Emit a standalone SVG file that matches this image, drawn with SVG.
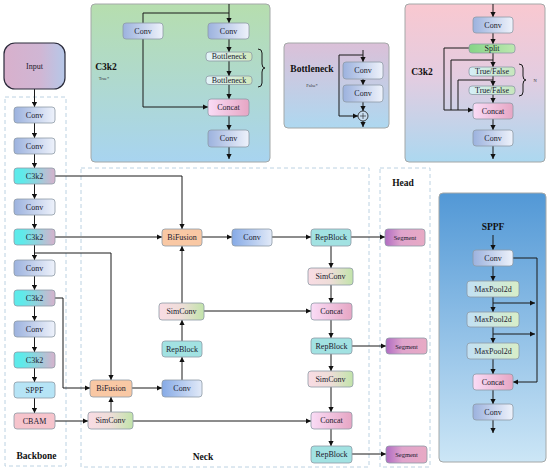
<svg xmlns="http://www.w3.org/2000/svg" width="550" height="473" viewBox="0 0 550 473">
<defs>
<linearGradient id="gConv" x1="0" x2="1" y1="0" y2="0"><stop offset="0" stop-color="#9cb2de"/><stop offset="1" stop-color="#eef2fb"/></linearGradient>
<linearGradient id="gNConv" x1="0" x2="1" y1="0" y2="0"><stop offset="0" stop-color="#86aae6"/><stop offset="1" stop-color="#e2eaf8"/></linearGradient>
<linearGradient id="gC3" x1="0" x2="1" y1="0" y2="0"><stop offset="0.2" stop-color="#5eeaea"/><stop offset="1" stop-color="#d6b2cc"/></linearGradient>
<linearGradient id="gIn" x1="0" x2="1" y1="0" y2="0"><stop offset="0" stop-color="#d8b0cc"/><stop offset="0.6" stop-color="#d0b6d4"/><stop offset="1" stop-color="#b6c8e8"/></linearGradient>
<linearGradient id="gSim" x1="0" x2="1" y1="0" y2="0"><stop offset="0" stop-color="#f9dce4"/><stop offset="0.5" stop-color="#eeddd8"/><stop offset="1" stop-color="#c2e4aa"/></linearGradient>
<linearGradient id="gCat" x1="0" x2="1" y1="0" y2="0"><stop offset="0" stop-color="#fadcf6"/><stop offset="1" stop-color="#e6a6c4"/></linearGradient>
<linearGradient id="gSeg" x1="0" x2="1" y1="0" y2="0"><stop offset="0" stop-color="#b06cc2"/><stop offset="0.4" stop-color="#e0a4cc"/><stop offset="1" stop-color="#e8aac4"/></linearGradient>
<linearGradient id="gBott" x1="0" x2="1" y1="0" y2="0"><stop offset="0" stop-color="#e4f4fb"/><stop offset="1" stop-color="#d0e8bc"/></linearGradient>
<linearGradient id="gSplit" x1="0" x2="1" y1="0" y2="0"><stop offset="0" stop-color="#86d486"/><stop offset="1" stop-color="#bde8b0"/></linearGradient>
<linearGradient id="gTF" x1="0" x2="1" y1="0" y2="0"><stop offset="0" stop-color="#d6eff8"/><stop offset="1" stop-color="#c6e6bc"/></linearGradient>
<linearGradient id="gMax" x1="0" x2="1" y1="0" y2="0"><stop offset="0" stop-color="#c2e0f4"/><stop offset="1" stop-color="#d8eec8"/></linearGradient>
<linearGradient id="pGreen" x1="0" x2="0" y1="0" y2="1"><stop offset="0" stop-color="#b6deae"/><stop offset="1" stop-color="#a8d4f0"/></linearGradient>
<linearGradient id="pBott" x1="0" x2="0" y1="0" y2="1"><stop offset="0" stop-color="#dbc0d8"/><stop offset="1" stop-color="#aed8f0"/></linearGradient>
<linearGradient id="pPink" x1="0" x2="0" y1="0" y2="1"><stop offset="0" stop-color="#f9c8d0"/><stop offset="0.45" stop-color="#e4cce0"/><stop offset="1" stop-color="#acd8f0"/></linearGradient>
<linearGradient id="pSPPF" x1="0" x2="0" y1="0" y2="1"><stop offset="0" stop-color="#5298d6"/><stop offset="1" stop-color="#cce6f6"/></linearGradient>
<marker id="ah" markerWidth="6" markerHeight="6" refX="5" refY="3" orient="auto" markerUnits="userSpaceOnUse"><path d="M0,0.4 L5,3 L0,5.6z" fill="#111"/></marker>
</defs>
<style>
.n{stroke:#8e9aa6;stroke-width:0.8}
.t{font-family:"Liberation Serif",serif;font-size:8px;fill:#1a1a2e;text-anchor:middle;dominant-baseline:central}
.ts{font-family:"Liberation Serif",serif;font-size:6.5px;fill:#1a1a2e;text-anchor:middle;dominant-baseline:central}
.b{font-family:"Liberation Serif",serif;font-weight:bold;font-size:9.5px;fill:#111;text-anchor:middle}
.tiny{font-family:"Liberation Serif",serif;font-size:4.5px;fill:#333;text-anchor:middle}
.pan{stroke:#a4a8a8;stroke-width:1}
.dash{fill:none;stroke:#bcd2e2;stroke-width:1;stroke-dasharray:4 3}
.c{fill:none;stroke:#1a1a1a;stroke-width:1}
.a{marker-end:url(#ah)}
</style>

<g id="panels">
<rect x="91" y="4" width="179" height="158" rx="4" fill="url(#pGreen)" class="pan"/>
<rect x="284" y="43" width="105" height="85" rx="4" fill="url(#pBott)" class="pan"/>
<rect x="405" y="4" width="140" height="158" rx="4" fill="url(#pPink)" class="pan"/>
<rect x="439" y="193" width="107" height="269" rx="4" fill="url(#pSPPF)" class="pan"/>
<rect x="5" y="97" width="61" height="369" class="dash"/>
<rect x="81" y="168" width="288" height="299" class="dash"/>
<rect x="380" y="168" width="50" height="299" class="dash"/>
</g>

<g id="labels">
<text x="106" y="70" class="b" font-size="10">C3k2</text>
<text x="104" y="80" class="tiny">True*</text>
<text x="312" y="72" class="b">Bottleneck</text>
<text x="312" y="87" class="tiny">False*</text>
<text x="422" y="75" class="b" font-size="11">C3k2</text>
<text x="535" y="82" class="tiny">N</text>
<text x="493" y="230" class="b" font-size="10">SPPF</text>
<text x="36.5" y="459" class="b">Backbone</text>
<text x="203" y="460" class="b">Neck</text>
<text x="403" y="186" class="b" font-size="9">Head</text>
</g>

<g id="connectors">
<path class="c a" d="M229,4 V23"/>
<path class="c a" d="M229,13 H143 V107 H208"/>
<path class="c a" d="M229,39 V52"/>
<path class="c a" d="M229,61 V76"/>
<path class="c a" d="M229,84 V99"/>
<path class="c a" d="M229,116 V130"/>
<path class="c a" d="M229,147 V159"/>
<path class="c" d="M258,49 q4,0 4,4 v11 q0,4 3,4 q-3,0 -3,4 v11 q0,4 -4,4" stroke-width="0.8"/>
<path class="c a" d="M363,50 V62"/>
<path class="c a" d="M363,55 H339 V116 H358"/>
<path class="c a" d="M363,79 V85"/>
<path class="c a" d="M363,102 V111"/>
<path class="c a" d="M363,121 V127"/>
<path class="c a" d="M493,4 V17"/>
<path class="c a" d="M493,33 V44"/>
<path class="c a" d="M493,53 V67"/>
<path class="c a" d="M493,76 V86"/>
<path class="c a" d="M493,94 V103"/>
<path class="c a" d="M493,119 V130"/>
<path class="c a" d="M493,146 V159"/>
<path class="c a" d="M469,48 H444 V110 H473"/>
<path class="c" d="M493,60 H451 V110"/>
<path class="c" d="M493,80 H458 V110"/>
<path class="c" d="M519,64 q4,0 4,4 v8 q0,4 3,4 q-3,0 -3,4 v8 q0,4 -4,4" stroke-width="0.8"/>
<path class="c a" d="M493,235 V250"/>
<path class="c a" d="M493,266 V281"/>
<path class="c a" d="M493,297 V312"/>
<path class="c a" d="M493,327 V343"/>
<path class="c a" d="M493,359 V374"/>
<path class="c a" d="M493,390 V404"/>
<path class="c a" d="M493,420 V433"/>
<path class="c a" d="M513,258 H537 V382 H513"/>
<path class="c a" d="M493,303 H535"/>
<path class="c a" d="M493,334 H535"/>
<path class="c a" d="M34.5,89 V107"/>
<path class="c a" d="M34.5,123 V138"/>
<path class="c a" d="M34.5,154 V168"/>
<path class="c a" d="M34.5,184 V199"/>
<path class="c a" d="M34.5,215 V229"/>
<path class="c a" d="M34.5,245 V260"/>
<path class="c a" d="M34.5,276 V290"/>
<path class="c a" d="M34.5,306 V321"/>
<path class="c a" d="M34.5,337 V352"/>
<path class="c a" d="M34.5,368 V382"/>
<path class="c a" d="M34.5,398 V413"/>
<path class="c a" d="M55,176 H182 V229"/>
<path class="c a" d="M55,237 H162"/>
<path class="c a" d="M34.5,253 H111 V380"/>
<path class="c a" d="M55,298 H63 V388 H90"/>
<path class="c a" d="M55,421 H88"/>
<path class="c a" d="M111,412 V397"/>
<path class="c a" d="M132,388 H162"/>
<path class="c a" d="M182,380 V357"/>
<path class="c a" d="M182,341 V320"/>
<path class="c a" d="M182,303 V246"/>
<path class="c a" d="M204,311 H311"/>
<path class="c a" d="M202,237 H232"/>
<path class="c a" d="M272,237 H311"/>
<path class="c a" d="M351,237 H385"/>
<path class="c a" d="M331,246 V268"/>
<path class="c a" d="M331,285 V303"/>
<path class="c a" d="M331,320 V338"/>
<path class="c a" d="M352,346 H386"/>
<path class="c a" d="M331,354 V371"/>
<path class="c a" d="M331,387 V412"/>
<path class="c a" d="M133,421 H311"/>
<path class="c a" d="M331,429 V446"/>
<path class="c a" d="M352,454 H386"/>
</g>

<g id="g_conv_l"><rect x="123" y="23" width="40" height="16" rx="3" fill="url(#gConv)" class="n"/><text x="143" y="31" class="t">Conv</text></g>
<g id="g_conv_r"><rect x="208" y="23" width="41" height="16" rx="3" fill="url(#gConv)" class="n"/><text x="228.5" y="31" class="t">Conv</text></g>
<g id="g_bott1"><rect x="206" y="52" width="46" height="9" rx="3" fill="url(#gBott)" class="n"/><text x="229" y="56.5" class="t" font-size="7.5">Bottleneck</text></g>
<g id="g_bott2"><rect x="206" y="76" width="46" height="8.5" rx="3" fill="url(#gBott)" class="n"/><text x="229" y="80.3" class="t" font-size="7.5">Bottleneck</text></g>
<g id="g_concat"><rect x="208" y="99" width="41" height="17" rx="3" fill="url(#gCat)" class="n"/><text x="228.5" y="107.5" class="t">Concat</text></g>
<g id="g_conv_b"><rect x="208" y="130" width="41" height="17" rx="3" fill="url(#gConv)" class="n"/><text x="228.5" y="138.5" class="t">Conv</text></g>

<g id="b_conv1"><rect x="343" y="62" width="40" height="17" rx="3" fill="url(#gConv)" class="n"/><text x="363" y="70.5" class="t">Conv</text></g>
<g id="b_conv2"><rect x="343" y="85" width="40" height="17" rx="3" fill="url(#gConv)" class="n"/><text x="363" y="93.5" class="t">Conv</text></g>
<g id="b_add"><circle cx="363" cy="116" r="5" fill="#c8ddf0" stroke="#1a1a1a" stroke-width="0.8"/><path d="M360,116 H366 M363,113 V119" stroke="#1a1a1a" stroke-width="0.6"/></g>

<g id="p_conv1"><rect x="473" y="17" width="40" height="16" rx="3" fill="url(#gConv)" class="n"/><text x="493" y="25" class="t">Conv</text></g>
<g id="p_split"><rect x="469" y="44" width="46" height="9" rx="3" fill="url(#gSplit)" class="n"/><text x="492" y="48.5" class="t">Split</text></g>
<g id="p_tf1"><rect x="469" y="67" width="46" height="9" rx="3" fill="url(#gTF)" class="n"/><text x="492" y="71.5" class="t">True/False</text></g>
<g id="p_tf2"><rect x="469" y="86" width="46" height="8.5" rx="3" fill="url(#gTF)" class="n"/><text x="492" y="90.3" class="t">True/False</text></g>
<g id="p_concat"><rect x="473" y="103" width="40" height="16" rx="3" fill="url(#gCat)" class="n"/><text x="493" y="111" class="t">Concat</text></g>
<g id="p_conv2"><rect x="473" y="130" width="40" height="16" rx="3" fill="url(#gConv)" class="n"/><text x="493" y="138" class="t">Conv</text></g>

<g id="s_conv1"><rect x="473" y="250" width="40" height="16" rx="3" fill="url(#gConv)" class="n"/><text x="493" y="258" class="t">Conv</text></g>
<g id="s_mp1"><rect x="467" y="281" width="52" height="16" rx="3" fill="url(#gMax)" class="n"/><text x="493" y="289" class="t">MaxPool2d</text></g>
<g id="s_mp2"><rect x="467" y="312" width="52" height="15" rx="3" fill="url(#gMax)" class="n"/><text x="493" y="319.5" class="t">MaxPool2d</text></g>
<g id="s_mp3"><rect x="467" y="343" width="52" height="16" rx="3" fill="url(#gMax)" class="n"/><text x="493" y="351" class="t">MaxPool2d</text></g>
<g id="s_concat"><rect x="473" y="374" width="40" height="16" rx="3" fill="url(#gCat)" class="n"/><text x="493" y="382" class="t">Concat</text></g>
<g id="s_conv2"><rect x="473" y="404" width="40" height="16" rx="3" fill="url(#gConv)" class="n"/><text x="493" y="412" class="t">Conv</text></g>

<g id="input"><rect x="4" y="43" width="61" height="46" rx="11" fill="url(#gIn)" stroke="#2a2a3a" stroke-width="1.2"/><text x="34.5" y="66" class="t" font-size="8.5">Input</text></g>
<g id="bb_conv1"><rect x="14" y="107" width="41" height="16" rx="3" fill="url(#gConv)" class="n"/><text x="34.5" y="115" class="t">Conv</text></g>
<g id="bb_conv2"><rect x="14" y="138" width="41" height="16" rx="3" fill="url(#gConv)" class="n"/><text x="34.5" y="146" class="t">Conv</text></g>
<g id="bb_c3k2_1"><rect x="14" y="168" width="41" height="16" rx="3" fill="url(#gC3)" class="n"/><text x="34.5" y="176" class="t">C3k2</text></g>
<g id="bb_conv3"><rect x="14" y="199" width="41" height="16" rx="3" fill="url(#gConv)" class="n"/><text x="34.5" y="207" class="t">Conv</text></g>
<g id="bb_c3k2_2"><rect x="14" y="229" width="41" height="16" rx="3" fill="url(#gC3)" class="n"/><text x="34.5" y="237" class="t">C3k2</text></g>
<g id="bb_conv4"><rect x="14" y="260" width="41" height="16" rx="3" fill="url(#gConv)" class="n"/><text x="34.5" y="268" class="t">Conv</text></g>
<g id="bb_c3k2_3"><rect x="14" y="290" width="41" height="16" rx="3" fill="url(#gC3)" class="n"/><text x="34.5" y="298" class="t">C3k2</text></g>
<g id="bb_conv5"><rect x="14" y="321" width="41" height="16" rx="3" fill="url(#gConv)" class="n"/><text x="34.5" y="329" class="t">Conv</text></g>
<g id="bb_c3k2_4"><rect x="14" y="352" width="41" height="16" rx="3" fill="url(#gC3)" class="n"/><text x="34.5" y="360" class="t">C3k2</text></g>
<g id="bb_sppf"><rect x="14" y="382" width="41" height="16" rx="3" fill="#b6e4f6" class="n"/><text x="34.5" y="390" class="t">SPPF</text></g>
<g id="bb_cbam"><rect x="14" y="413" width="41" height="16" rx="3" fill="#f6c4cc" class="n"/><text x="34.5" y="421" class="t">CBAM</text></g>

<g id="n_bif1"><rect x="162" y="229" width="40" height="17" rx="3" fill="#f9c8a4" class="n"/><text x="182" y="237.5" class="t">BiFusion</text></g>
<g id="n_conv1"><rect x="232" y="229" width="40" height="17" rx="3" fill="url(#gNConv)" class="n"/><text x="252" y="237.5" class="t">Conv</text></g>
<g id="n_rep1"><rect x="311" y="229" width="40" height="17" rx="3" fill="#a2e2e2" class="n"/><text x="331" y="237.5" class="t">RepBlock</text></g>
<g id="n_sim_r1"><rect x="308" y="268" width="45" height="17" rx="3" fill="url(#gSim)" class="n"/><text x="330.5" y="276.5" class="t">SimConv</text></g>
<g id="n_cat1"><rect x="311" y="303" width="41" height="17" rx="3" fill="url(#gCat)" class="n"/><text x="331.5" y="311.5" class="t">Concat</text></g>
<g id="n_rep2"><rect x="311" y="338" width="41" height="16" rx="3" fill="#a2e2e2" class="n"/><text x="331.5" y="346" class="t">RepBlock</text></g>
<g id="n_sim_r2"><rect x="308" y="371" width="45" height="16" rx="3" fill="url(#gSim)" class="n"/><text x="330.5" y="379" class="t">SimConv</text></g>
<g id="n_cat2"><rect x="311" y="412" width="41" height="17" rx="3" fill="url(#gCat)" class="n"/><text x="331.5" y="420.5" class="t">Concat</text></g>
<g id="n_rep3"><rect x="311" y="446" width="41" height="17" rx="3" fill="#a2e2e2" class="n"/><text x="331.5" y="454.5" class="t">RepBlock</text></g>
<g id="n_sim_l1"><rect x="159" y="303" width="45" height="17" rx="3" fill="url(#gSim)" class="n"/><text x="181.5" y="311.5" class="t">SimConv</text></g>
<g id="n_rep_l"><rect x="162" y="341" width="40" height="16" rx="3" fill="#a2e2e2" class="n"/><text x="182" y="349" class="t">RepBlock</text></g>
<g id="n_conv_l"><rect x="162" y="380" width="40" height="17" rx="3" fill="url(#gNConv)" class="n"/><text x="182" y="388.5" class="t">Conv</text></g>
<g id="n_bif2"><rect x="90" y="380" width="42" height="17" rx="3" fill="#f9c8a4" class="n"/><text x="111" y="388.5" class="t">BiFusion</text></g>
<g id="n_sim_l2"><rect x="88" y="412" width="45" height="17" rx="3" fill="url(#gSim)" class="n"/><text x="110.5" y="420.5" class="t">SimConv</text></g>

<g id="h_seg1"><rect x="385" y="229" width="40" height="17" rx="3" fill="url(#gSeg)" class="n"/><text x="405" y="237.5" class="ts">Segment</text></g>
<g id="h_seg2"><rect x="386" y="338" width="41" height="16" rx="3" fill="url(#gSeg)" class="n"/><text x="406.5" y="346" class="ts">Segment</text></g>
<g id="h_seg3"><rect x="386" y="446" width="41" height="17" rx="3" fill="url(#gSeg)" class="n"/><text x="406.5" y="454.5" class="ts">Segment</text></g>
</svg>
